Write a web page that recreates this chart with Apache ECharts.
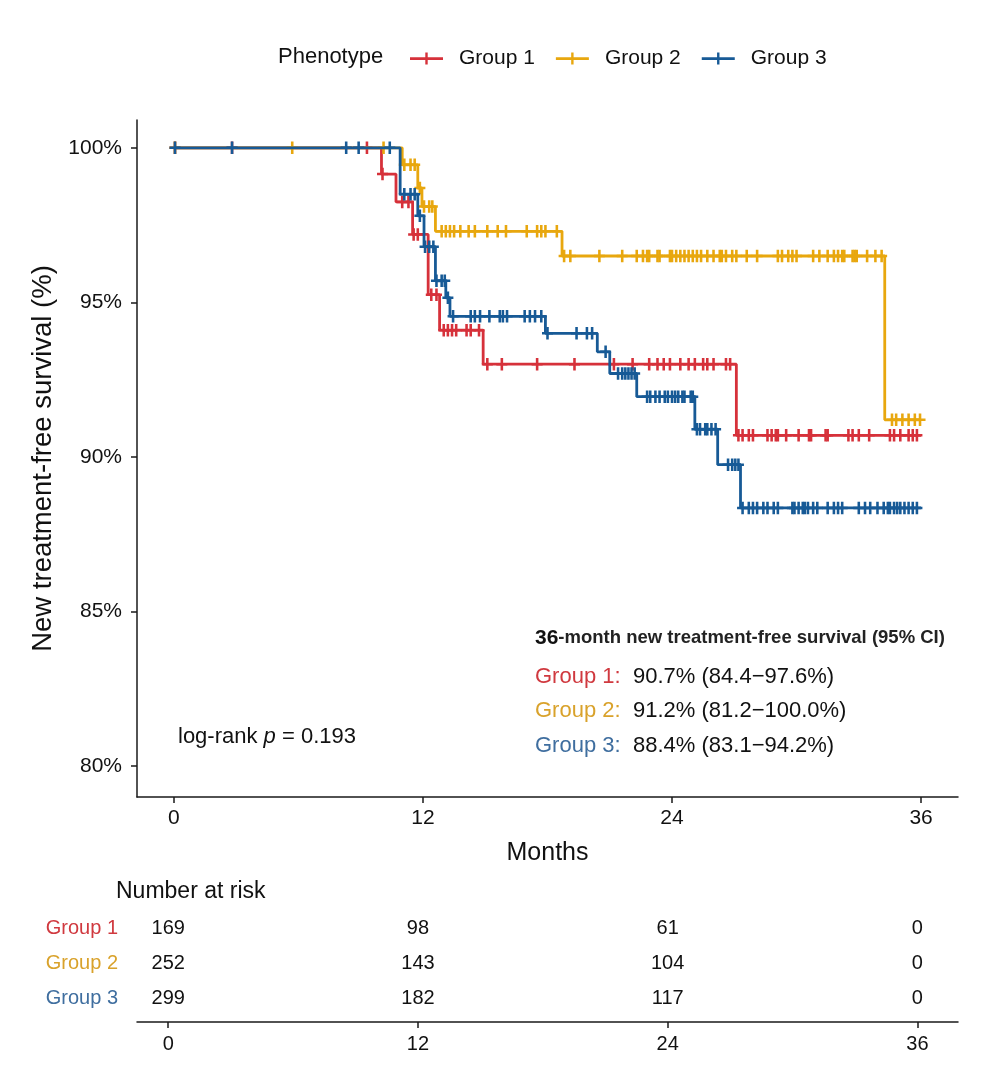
<!DOCTYPE html>
<html>
<head>
<meta charset="utf-8">
<script src="https://cdn.jsdelivr.net/npm/echarts@6/dist/echarts.min.js"></script>
<style>html,body{margin:0;padding:0;background:#fff}#c{width:992px;height:1071px}</style>
</head>
<body>
<div id="c"></div>
<script>
// ---------- data ----------
const groupNames = ['Group 1', 'Group 2', 'Group 3'];
const lineColors = ['#D6313A', '#E8A70E', '#175A96'];
const textColors = ['#D0393F', '#D9A22B', '#3F6E9F'];

// Kaplan-Meier step curves (time in months, survival %)
const g1Times = [0, 10.0, 10.7, 11.5, 12.25, 12.8, 14.9, 27.1];
const g1Surv  = [100, 99.15, 98.25, 97.2, 95.25, 94.1, 93.0, 90.7];
const g2Times = [0, 11.0, 11.75, 11.95, 12.6, 18.7, 34.25];
const g2Surv  = [100, 99.45, 98.7, 98.1, 97.3, 96.5, 91.2];
const g3Times = [0, 10.9, 11.75, 12.05, 12.6, 13.1, 13.3, 17.9, 20.4, 21.0, 22.3, 25.1, 26.2, 27.3];
const g3Surv  = [100, 98.5, 97.8, 96.8, 95.7, 95.15, 94.55, 94.0, 93.4, 92.7, 91.95, 90.9, 89.75, 88.35];
const endTime = 36;

// censoring times
const g1Cens = [0.05, 2.8, 9.3, 10.05, 11.0, 11.3, 11.55, 11.75, 12.4, 12.65,
  13.0, 13.2, 13.4, 13.6, 14.1, 14.3, 14.7,
  15.1, 15.8, 17.5, 19.3, 21.2, 22.1, 22.9, 23.3, 23.6, 23.9, 24.4, 24.8, 25.1, 25.5, 25.7, 26.0, 26.6, 26.8,
  27.2, 27.4, 27.7, 27.9, 28.6, 28.8, 29.0, 29.1, 29.5, 30.1, 30.6, 30.7, 31.4, 31.5, 32.5, 32.7, 33.0, 33.5,
  34.5, 34.7, 35.0, 35.4, 35.6, 35.8];
const g2Cens = [0.05, 5.7, 10.1, 11.1, 11.4, 11.6, 11.85, 12.05, 12.3, 12.45,
  12.9, 13.1, 13.3, 13.5, 13.8, 14.2, 14.5, 15.1, 15.6, 16.0, 17.0, 17.5, 17.7, 17.9, 18.45,
  18.8, 19.1, 20.5, 21.6, 22.3, 22.6, 22.8, 22.9, 23.3, 23.4, 23.9, 24.0, 24.2, 24.4, 24.6, 24.8, 25.0,
  25.2, 25.4, 25.7, 26.0, 26.3, 26.4, 26.6, 26.9, 27.1, 27.6, 28.1, 29.1, 29.3, 29.6, 29.8, 30.0, 30.8,
  31.1, 31.5, 31.8, 32.0, 32.2, 32.3, 32.7, 32.8, 32.9, 33.4, 33.8, 34.1,
  34.6, 34.8, 35.1, 35.4, 35.7, 35.95];
const g3Cens = [0.05, 2.8, 8.3, 8.9, 10.4, 11.1, 11.4, 11.6, 11.85, 12.1, 12.3, 12.5, 12.65, 12.9, 13.05, 13.2,
  13.45, 14.3, 14.5, 14.75, 15.2, 15.7, 15.85, 16.05, 16.9, 17.15, 17.4, 17.7,
  18.0, 19.4, 19.9, 20.15, 20.8, 21.4, 21.6, 21.75, 21.9, 22.05, 22.2,
  22.8, 22.95, 23.2, 23.4, 23.65, 23.8, 24.0, 24.15, 24.3, 24.5, 24.6, 24.9, 25.0,
  25.2, 25.35, 25.6, 25.7, 25.9, 26.1, 26.7, 26.9, 27.05, 27.2,
  27.4, 27.7, 27.9, 28.1, 28.4, 28.6, 28.9, 29.1, 29.8, 29.9, 30.1, 30.3, 30.4, 30.55, 30.8, 31.0,
  31.5, 31.8, 32.0, 32.2, 33.0, 33.3, 33.55, 33.9, 34.2, 34.4, 34.5, 34.7, 34.85, 35.0, 35.2, 35.4, 35.6, 35.8];

// 36-month estimates
const est36  = [90.7, 91.2, 88.4];
const ciLow  = [84.4, 81.2, 83.1];
const ciHigh = [97.6, 100.0, 94.2];
const logRankP = 0.193;

// number at risk
const riskTimes = [0, 12, 24, 36];
const risk1 = [169, 98, 61, 0];
const risk2 = [252, 143, 104, 0];
const risk3 = [299, 182, 117, 0];

// axis ticks
const xTicks = [0, 12, 24, 36];
const yTicks = [80, 85, 90, 95, 100];

// ---------- build ----------
const FONT = "'Liberation Sans', Arial, Helvetica, sans-serif";
const curves = [[g1Times, g1Surv], [g2Times, g2Surv], [g3Times, g3Surv]];
const cens = [g1Cens, g2Cens, g3Cens];
const risks = [risk1, risk2, risk3];

function survAt(times, vals, t) {
  let v = vals[0];
  for (let i = 0; i < times.length; i++) if (times[i] <= t) v = vals[i];
  return v;
}
const plusSym = 'path://M4.6,0 L7.4,0 L7.4,13 L4.6,13 Z M0,5.2 L12,5.2 L12,7.8 L0,7.8 Z';

const series = [];
curves.forEach(([ts, vs], g) => {
  const data = ts.map((t, i) => [t, vs[i]]);
  data.push([endTime, vs[vs.length - 1]]);
  series.push({
    name: groupNames[g], type: 'line', step: 'end', data,
    showSymbol: false, symbol: 'none', xAxisIndex: 0, yAxisIndex: 0,
    lineStyle: { color: lineColors[g], width: 2.8 }, itemStyle: { color: lineColors[g] },
    z: 2 + g * 2, silent: true
  });
  series.push({
    name: groupNames[g] + ' censored', type: 'scatter', xAxisIndex: 0, yAxisIndex: 0,
    data: cens[g].map(t => [t, survAt(ts, vs, t)]),
    symbol: plusSym, symbolSize: [11, 12.5],
    itemStyle: { color: lineColors[g], opacity: 1 }, z: 3 + g * 2, silent: true
  });
});
risks.forEach((r, g) => {
  series.push({
    name: groupNames[g] + ' risk', type: 'scatter', xAxisIndex: 1, yAxisIndex: 1,
    data: riskTimes.map((t, i) => [t, 3 - g, r[i]]),
    symbolSize: 0, itemStyle: { opacity: 1 },
    label: { show: true, position: 'inside', formatter: p => String(p.value[2]),
             fontSize: 20, fontFamily: FONT, color: '#111', opacity: 1, textBorderWidth: 0 },
    silent: true
  });
});

const axisLineStyle = { color: '#1a1a1a', width: 1.5 };
const txt = (text, x, y, size, fill, extra) => ({
  type: 'text', x, y, silent: true,
  style: Object.assign({ text, fontSize: size, fontFamily: FONT, fill, verticalAlign: 'middle', align: 'left' }, extra || {})
});

const graphics = [
  txt('Phenotype', 278, 57, 22, '#111'),
  {
    type: 'text', x: 178, y: 737, silent: true,
    style: { text: 'log-rank {i|p} = ' + logRankP.toFixed(3), fontSize: 22, fontFamily: FONT, fill: '#111',
             verticalAlign: 'middle', rich: { i: { fontStyle: 'italic', fontSize: 22, fontFamily: FONT, fill: '#111' } } }
  },
  {
    type: 'text', x: 535, y: 638, silent: true,
    style: { text: '{a|36}{b|-month new treatment-free survival (95% CI)}', verticalAlign: 'middle', fontFamily: FONT,
             rich: { a: { fontSize: 21, fontWeight: 'bold', fontFamily: FONT, fill: '#111' },
                     b: { fontSize: 18.5, fontWeight: 'bold', fontFamily: FONT, fill: '#222' } } }
  },
  txt('Number at risk', 116, 892, 23, '#111')
];
groupNames.forEach((n, g) => {
  const y = 676.5 + g * 34.5;
  graphics.push(txt(n + ':', 535, y, 22, textColors[g]));
  graphics.push(txt(est36[g].toFixed(1) + '% (' + ciLow[g].toFixed(1) + '\u2212' + ciHigh[g].toFixed(1) + '%)', 633, y, 22, '#111'));
});

const option = {
  animation: false,
  backgroundColor: '#ffffff',
  textStyle: { fontFamily: FONT },
  legend: {
    data: groupNames, left: 410, top: 48, padding: 0, itemWidth: 33, itemHeight: 12, itemGap: 21,
    icon: 'path://M0,4.8 L33,4.8 L33,7.6 L0,7.6 Z M15.3,0 L17.7,0 L17.7,12 L15.3,12 Z',
    textStyle: { fontSize: 21, fontFamily: FONT, color: '#111', padding: [0, 0, 0, 11] },
    selectedMode: false
  },
  grid: [
    { left: 137, right: 34, top: 120, bottom: 274 },
    { left: 137, right: 34, top: 893, bottom: 49 }
  ],
  xAxis: [
    { type: 'value', gridIndex: 0, min: -1.78, max: 37.78,
      axisLine: { show: true, onZero: false, lineStyle: axisLineStyle },
      axisTick: { show: true, customValues: xTicks, length: 6, lineStyle: axisLineStyle },
      axisLabel: { customValues: xTicks, fontSize: 21, color: '#111', margin: 11, fontFamily: FONT },
      splitLine: { show: false },
      name: 'Months', nameLocation: 'middle', nameGap: 44,
      nameTextStyle: { fontSize: 25, color: '#111', fontFamily: FONT } },
    { type: 'value', gridIndex: 1, min: -1.5, max: 37.95,
      axisLine: { show: true, onZero: false, lineStyle: axisLineStyle },
      axisTick: { show: true, customValues: riskTimes, length: 6, lineStyle: axisLineStyle },
      axisLabel: { customValues: riskTimes, fontSize: 20, color: '#111', margin: 12, fontFamily: FONT },
      splitLine: { show: false } }
  ],
  yAxis: [
    { type: 'value', gridIndex: 0, min: 79.0, max: 100.9,
      axisLine: { show: true, onZero: false, lineStyle: axisLineStyle },
      axisTick: { show: true, customValues: yTicks, length: 6, lineStyle: axisLineStyle },
      axisLabel: { customValues: yTicks, formatter: v => v + '%', fontSize: 21, color: '#111', margin: 15, fontFamily: FONT },
      splitLine: { show: false },
      name: 'New treatment-free survival (%)', nameLocation: 'middle', nameGap: 80,
      nameTextStyle: { fontSize: 27.5, color: '#111', fontFamily: FONT } },
    { type: 'value', gridIndex: 1, min: 0.314, max: 4.0,
      axisLine: { show: false }, axisTick: { show: false }, splitLine: { show: false },
      axisLabel: { customValues: [1, 2, 3], margin: 19, fontSize: 20, fontFamily: FONT,
        formatter: v => '{g' + (3 - v) + '|' + groupNames[3 - v] + '}',
        rich: { g0: { color: textColors[0], fontSize: 20, fontFamily: FONT },
                g1: { color: textColors[1], fontSize: 20, fontFamily: FONT },
                g2: { color: textColors[2], fontSize: 20, fontFamily: FONT } } } }
  ],
  graphic: graphics,
  series
};

const chart = echarts.init(document.getElementById('c'), null, { renderer: 'canvas' });
chart.setOption(option);
</script>
</body>
</html>
